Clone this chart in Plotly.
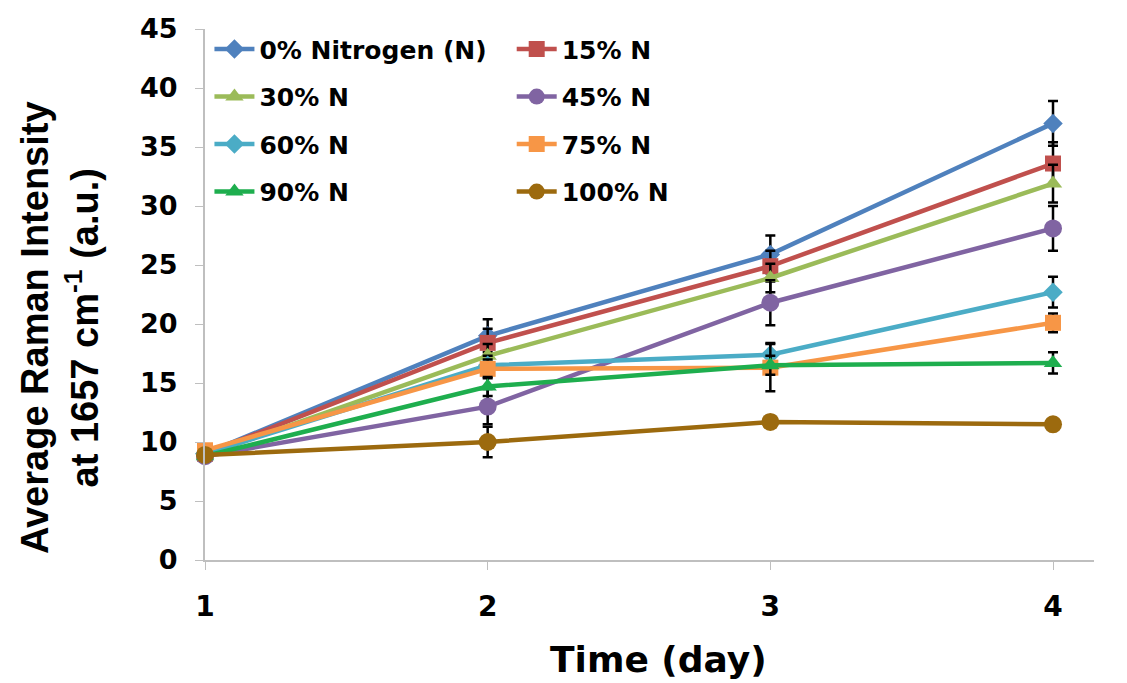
import plotly.graph_objects as go

days = [1, 2, 3, 4]
series_names = ["0% Nitrogen (N)", "15% N", "30% N", "45% N", "60% N", "75% N", "90% N", "100% N"]
n0 = [9.0, 19.0, 25.9, 37.0]
n15 = [9.0, 18.4, 24.9, 33.6]
n30 = [8.9, 17.3, 23.9, 31.9]
n45 = [8.8, 13.0, 21.8, 28.1]
n60 = [9.0, 16.5, 17.4, 22.7]
n75 = [9.3, 16.2, 16.3, 20.1]
n90 = [8.8, 14.7, 16.5, 16.7]
n100 = [8.9, 10.0, 11.7, 11.5]
e0 = [0.3, 1.4, 1.6, 1.9]
e15 = [0.3, 1.2, 1.3, 1.8]
e30 = [0.3, 1.0, 1.2, 1.6]
e45 = [0.3, 1.5, 1.9, 1.9]
e60 = [0.3, 0.8, 1.0, 1.3]
e75 = [0.3, 0.8, 2.0, 0.8]
e90 = [0.3, 0.8, 0.8, 0.9]
e100 = [0.3, 1.3, 0.5, 0.4]
y_ticks = [0, 5, 10, 15, 20, 25, 30, 35, 40, 45]
x_ticks = [1, 2, 3, 4]
x_title = "Time (day)"
y_title = "Average Raman Intensity<br>at 1657 cm<sup>-1</sup> (a.u.)"

values = [n0, n15, n30, n45, n60, n75, n90, n100]
errors = [e0, e15, e30, e45, e60, e75, e90, e100]
colors = ["#4F81BD", "#C0504D", "#9BBB59", "#8064A2", "#4BACC6", "#F79646", "#1EAE4E", "#9C6A0E"]
symbols = ["diamond", "square", "triangle-up", "circle", "diamond", "square", "triangle-up", "circle"]
sizes = [15, 16, 16, 18, 15, 16, 16, 18]

WIDE = "DejaVu Sans, sans-serif"
ARIAL = "Liberation Sans, Arial, sans-serif"

fig = go.Figure()
for i, (name, v, e, c, s, sz) in enumerate(zip(series_names, values, errors, colors, symbols, sizes)):
    fig.add_trace(go.Scatter(
        x=days, y=v, name=name, mode="lines+markers",
        line=dict(color=c, width=4.5),
        marker=dict(color=c, symbol=s, size=sz),
        error_y=dict(type="data", array=e, visible=True, color="black", thickness=2.5, width=5),
        cliponaxis=False,
        legendgroup=f"g{i}",
        legend="legend" if i % 2 == 0 else "legend2",
    ))

legend_common = dict(
    font=dict(family=WIDE, size=25, color="black", weight="bold"),
    bgcolor="rgba(0,0,0,0)",
    tracegroupgap=12,
    itemwidth=40,
    yanchor="top",
    xanchor="left",
    orientation="v",
)

fig.update_layout(
    width=1127, height=683,
    margin=dict(l=205, r=33, t=29, b=123),
    paper_bgcolor="white", plot_bgcolor="white",
    font=dict(family=WIDE, color="black"),
    legend=dict(x=0.005, y=1.005, **legend_common),
    legend2=dict(x=0.345, y=1.005, **legend_common),
    xaxis=dict(
        range=[1, 4.145], tickvals=x_ticks, ticktext=[str(t) for t in x_ticks],
        showgrid=False, zeroline=False, showline=True, linecolor="#BFBFBF", linewidth=2,
        ticks="outside", ticklen=8, tickcolor="#BFBFBF", tickwidth=1,
        ticklabelstandoff=12,
        tickfont=dict(family=WIDE, size=28, color="black", weight="bold"),
    ),
    yaxis=dict(
        range=[0, 45], tickvals=y_ticks,
        showgrid=False, zeroline=False, showline=True, linecolor="#BFBFBF", linewidth=2,
        ticks="outside", ticklen=8, tickcolor="#BFBFBF", tickwidth=1,
        ticklabelstandoff=12,
        tickfont=dict(family=WIDE, size=27, color="black", weight="bold"),
    ),
    annotations=[
        dict(text=x_title, xref="paper", yref="paper", x=0.51, y=-0.188,
             xanchor="center", yanchor="middle", showarrow=False,
             font=dict(family=WIDE, size=36, color="black", weight="bold")),
        dict(text=y_title, xref="paper", yref="paper", x=-0.163, y=0.437,
             xanchor="center", yanchor="middle", showarrow=False, textangle=-90,
             font=dict(family=ARIAL, size=38, color="black", weight="bold")),
    ],
)

fig.write_html("out.html")
